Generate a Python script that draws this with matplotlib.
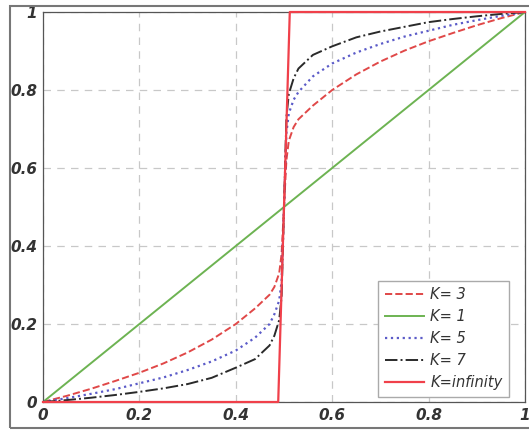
import matplotlib
matplotlib.use("Agg")
import matplotlib.pyplot as plt
from matplotlib.patches import Rectangle

x_lo = [0, 0.05, 0.1, 0.15, 0.2, 0.25, 0.3, 0.35, 0.4, 0.44, 0.47, 0.48, 0.49, 0.495, 0.5]
x_hi = [0.505, 0.51, 0.52, 0.53, 0.56, 0.6, 0.65, 0.7, 0.75, 0.8, 0.85, 0.9, 0.95, 1.0]

k3_lo = [0, 0.016, 0.034, 0.054, 0.075, 0.099, 0.127, 0.16, 0.2, 0.24, 0.275, 0.295, 0.33, 0.38, 0.5]
k3_hi = [0.62, 0.67, 0.705, 0.725, 0.76, 0.80, 0.84, 0.873, 0.901, 0.925, 0.946, 0.966, 0.984, 1.0]

k5_lo = [0, 0.010, 0.021, 0.033, 0.048, 0.063, 0.082, 0.104, 0.132, 0.165, 0.2, 0.225, 0.26, 0.31, 0.5]
k5_hi = [0.69, 0.74, 0.775, 0.795, 0.835, 0.868, 0.896, 0.918, 0.937, 0.952, 0.967, 0.979, 0.99, 1.0]

k7_lo = [0, 0.005, 0.011, 0.018, 0.026, 0.035, 0.046, 0.062, 0.088, 0.11, 0.145, 0.17, 0.21, 0.27, 0.5]
k7_hi = [0.73, 0.79, 0.83, 0.855, 0.89, 0.912, 0.935, 0.95, 0.962, 0.974, 0.982, 0.989, 0.995, 1.0]

k1_x = [0, 1]
k1_y = [0, 1]

kinf_x = [0, 0.488, 0.512, 1]
kinf_y = [0, 0, 1, 1]

labels = ["K= 3", "K= 1", "K= 5", "K= 7", "K=infinity"]

fig = plt.figure(figsize=(5.29, 4.34), dpi=100)
ax = fig.add_axes([43 / 529, 1 - 402 / 434, 482 / 529, 390 / 434])

ax.plot(x_lo + x_hi, k3_lo + k3_hi, color="#e04848", ls="--", lw=1.4, label=labels[0])
ax.plot(k1_x, k1_y, color="#6db352", ls="-", lw=1.4, label=labels[1])
ax.plot(x_lo + x_hi, k5_lo + k5_hi, color="#5b5bc8", ls=":", lw=1.6, label=labels[2])
ax.plot(x_lo + x_hi, k7_lo + k7_hi, color="#2a2a2a", ls="-.", lw=1.4, label=labels[3])
ax.plot(kinf_x, kinf_y, color="#f0404a", ls="-", lw=1.6, label=labels[4],
        clip_on=False, zorder=5)

ax.set_xlim(0, 1)
ax.set_ylim(0, 1)
ticks = [0, 0.2, 0.4, 0.6, 0.8, 1]
ticklabels = ["0", "0.2", "0.4", "0.6", "0.8", "1"]
ax.set_xticks(ticks)
ax.set_xticklabels(ticklabels)
ax.set_yticks(ticks)
ax.set_yticklabels(ticklabels)
for t in ax.get_xticklabels() + ax.get_yticklabels():
    t.set_fontweight("bold")
    t.set_fontstyle("italic")
    t.set_fontsize(11)
    t.set_color("#333333")
ax.tick_params(length=0, pad=4)
ax.grid(True, ls=(0, (6, 5)), color="#c8c8c8", lw=0.9)
for s in ax.spines.values():
    s.set_color("#555555")
    s.set_linewidth(0.9)

leg = ax.legend(loc="lower right", bbox_to_anchor=(0.982, -0.005), fancybox=False,
                framealpha=1, edgecolor="#aaaaaa", handlelength=2.7,
                borderpad=0.45, labelspacing=0.48, handletextpad=0.4,
                prop={"style": "italic", "size": 10.5})
for t in leg.get_texts():
    t.set_color("#333333")

fig.patches.append(Rectangle((10 / 529, 6 / 434), 1.0, 1 - 12 / 434,
                             transform=fig.transFigure, fill=False,
                             edgecolor="#777777", lw=1.5))

fig.savefig("out.png", dpi=100)
